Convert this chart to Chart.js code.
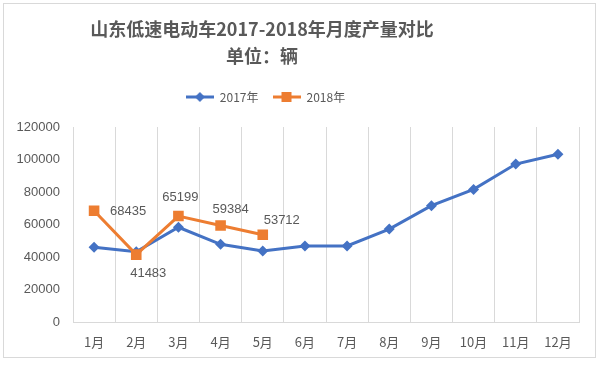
<!DOCTYPE html>
<html>
<head>
<meta charset="utf-8">
<script src="https://cdn.jsdelivr.net/npm/chart.js@4/dist/chart.umd.min.js"></script>
<style>
  html, body { margin: 0; padding: 0; background: #fff; }
  #wrap { width: 600px; height: 365px; position: relative; }
</style>
</head>
<body>
<div id="wrap"><canvas id="c" width="600" height="365"></canvas></div>
<script>
/* ── Datos ─────────────────────────────────────────── */
const months = ["1月", "2月", "3月", "4月", "5月", "6月", "7月", "8月", "9月", "10月", "11月", "12月"];
const prod2017 = [46000, 43200, 58300, 47800, 43700, 46800, 46800, 57200, 71600, 81600, 97200, 103200];
const prod2018 = [68435, 41483, 65199, 59384, 53712];
const yTicks = [0, 20000, 40000, 60000, 80000, 100000, 120000];

const BLUE = "#4472C4";
const ORANGE = "#ED7D31";
const GREY_TXT = "#595959";
const GRID = "#d9d9d9";

/* icono de leyenda: línea + marcador */
function legendIcon(color, shape) {
  const cv = document.createElement("canvas");
  cv.width = 28; cv.height = 12;
  const g = cv.getContext("2d");
  g.strokeStyle = color; g.lineWidth = 3;
  g.beginPath(); g.moveTo(0, 6); g.lineTo(28, 6); g.stroke();
  g.fillStyle = color;
  if (shape === "diamond") {
    g.beginPath(); g.moveTo(14, 1); g.lineTo(19, 6); g.lineTo(14, 11); g.lineTo(9, 6); g.closePath(); g.fill();
  } else {
    g.fillRect(9, 1, 10, 10);
  }
  return cv;
}

/* ── Plugin: marco exterior ── */
const framePlugin = {
  id: "frame",
  beforeDraw(chart) {
    const { ctx } = chart;
    ctx.save();
    ctx.fillStyle = "#fff";
    ctx.fillRect(0, 0, chart.width, chart.height);
    ctx.strokeStyle = GRID;
    ctx.lineWidth = 1;
    ctx.strokeRect(3.5, 3.5, 592, 354);
    ctx.restore();
  },
};

/* ── Plugin: hueco fijo entre leyenda y área de trazado ── */
const spacerPlugin = {
  id: "spacer",
  beforeInit(chart) {
    Chart.layouts.addBox(chart, {
      position: "top",
      weight: 10,
      fullSize: true,
      options: {},
      isHorizontal() { return true; },
      update(maxW) { this.width = maxW; this.height = 14; },
      draw() {},
    });
  },
  /* título y leyenda van algo a la izquierda del centro en el original */
  afterLayout(chart) {
    if (chart.titleBlock) chart.titleBlock.right -= 65;
    if (chart.legend) chart.legend.right -= 58;
  },
};

/* ── Plugin: etiquetas de datos (solo 2018) ── */
const dataLabelPlugin = {
  id: "dataLabels",
  afterDatasetsDraw(chart, _args, opts) {
    const meta = chart.getDatasetMeta(opts.datasetIndex);
    const ds = chart.data.datasets[opts.datasetIndex];
    const { ctx } = chart;
    ctx.save();
    ctx.font = "13px 'Liberation Sans', Arial, sans-serif";
    ctx.fillStyle = GREY_TXT;
    ctx.textAlign = "center";
    ctx.textBaseline = "middle";
    meta.data.forEach((pt, i) => {
      const off = opts.offsets[i] || [0, -16];
      ctx.fillText(String(ds.data[i]), pt.x + off[0], pt.y + off[1]);
    });
    ctx.restore();
  },
};

new Chart(document.getElementById("c"), {
  type: "line",
  data: {
    labels: months,
    datasets: [
      {
        label: "2017年",
        data: prod2017,
        borderColor: BLUE,
        backgroundColor: BLUE,
        borderWidth: 3,
        pointStyle: "rectRot",
        pointRadius: 5.5,
        pointBorderWidth: 0,
        tension: 0,
        order: 2,
      },
      {
        label: "2018年",
        data: prod2018,
        borderColor: ORANGE,
        backgroundColor: ORANGE,
        borderWidth: 3,
        pointStyle: "rect",
        pointRadius: 7.5,
        pointBorderWidth: 0,
        tension: 0,
        order: 1,
      },
    ],
  },
  options: {
    responsive: false,
    animation: false,
    layout: { padding: { top: 8, left: 10, right: 21, bottom: 8 } },
    plugins: {
      title: {
        display: true,
        text: ["山东低速电动车2017-2018年月度产量对比", "单位：辆"],
        color: GREY_TXT,
        font: { family: "'Noto Sans CJK SC', sans-serif", size: 18, weight: "bold", lineHeight: 1.5 },
        padding: { top: 8, bottom: 7 },
      },
      legend: {
        display: true,
        position: "top",
        labels: {
          color: GREY_TXT,
          font: { family: "'Noto Sans CJK SC', sans-serif", size: 12 },
          usePointStyle: true,
          pointStyleWidth: 28,
          boxHeight: 12,
          padding: 14,
          sort: (a, b) => a.datasetIndex - b.datasetIndex,
          generateLabels(chart) {
            const items = Chart.defaults.plugins.legend.labels.generateLabels(chart);
            items.forEach((it) => {
              it.pointStyle = it.datasetIndex === 0 ? legendIcon(BLUE, "diamond") : legendIcon(ORANGE, "square");
            });
            return items;
          },
        },
      },
      tooltip: { enabled: false },
      dataLabels: {
        datasetIndex: 1,
        offsets: [[34, 1], [12, 19], [2, -19], [10, -16], [19, -14]],
      },
    },
    scales: {
      x: {
        offset: true,
        grid: { display: true, offset: true, color: GRID, drawTicks: false, lineWidth: 1 },
        border: { display: true, color: GRID },
        ticks: {
          color: GREY_TXT,
          padding: 12,
          maxRotation: 0,
          font: { family: "'Noto Sans CJK SC', sans-serif", size: 13 },
        },
        afterFit(scale) { scale.height = 35; },
      },
      y: {
        min: 0,
        max: 120000,
        afterBuildTicks(scale) { scale.ticks = yTicks.map((v) => ({ value: v })); },
        grid: { display: false, drawTicks: false },
        border: { display: false },
        ticks: {
          color: GREY_TXT,
          padding: 13,
          font: { family: "'Liberation Sans', Arial, sans-serif", size: 13 },
          callback: (v) => String(v),
        },
        afterFit(scale) { scale.width = 63; },
      },
    },
  },
  plugins: [framePlugin, spacerPlugin, dataLabelPlugin],
});
</script>
</body>
</html>
